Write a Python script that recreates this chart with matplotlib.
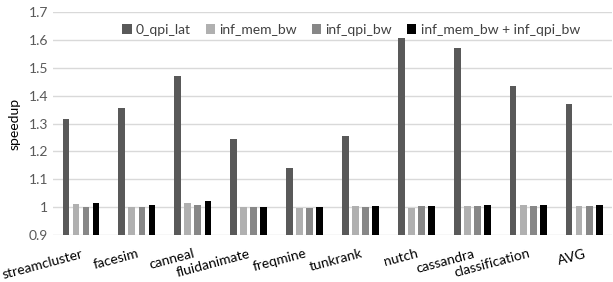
import numpy as np
import matplotlib
matplotlib.use("Agg")
import matplotlib.pyplot as plt

plt.rcParams['font.family'] = ['Lato', 'DejaVu Sans']

benchmarks = ["streamcluster", "facesim", "canneal", "fluidanimate", "freqmine",
              "tunkrank", "nutch", "cassandra", "classification", "AVG"]
series_names = ["0_qpi_lat", "inf_mem_bw", "inf_qpi_bw", "inf_mem_bw + inf_qpi_bw"]
qpi_lat = [1.315, 1.356, 1.472, 1.244, 1.139, 1.256, 1.606, 1.572, 1.435, 1.369]
mem_bw = [1.011, 1.002, 1.014, 1.002, 0.998, 1.003, 0.998, 1.003, 1.008, 1.003]
qpi_bw = [1.002, 1.002, 1.007, 1.002, 0.998, 0.999, 1.003, 1.003, 1.003, 1.003]
both_bw = [1.016, 1.006, 1.023, 1.002, 1.002, 1.003, 1.003, 1.007, 1.007, 1.007]
colors = ["#595959", "#b0b0b0", "#878787", "#000000"]

fig = plt.figure(figsize=(6.13, 2.82), dpi=100)
ax = fig.add_axes([0.0865, 0.167, 0.912, 0.79])

x = np.arange(len(benchmarks))
w = 0.12
step = 0.18
for i, (vals, name) in enumerate(zip([qpi_lat, mem_bw, qpi_bw, both_bw], series_names)):
    ax.bar(x + (i - 1.5) * step, np.array(vals) - 0.9, w, bottom=0.9,
           color=colors[i], label=name, zorder=3)

ax.set_ylim(0.9, 1.7)
ax.set_xlim(-0.5, len(benchmarks) - 0.5)
ax.set_yticks(np.arange(0.9, 1.71, 0.1))
ax.set_yticklabels(["0.9", "1", "1.1", "1.2", "1.3", "1.4", "1.5", "1.6", "1.7"])
ax.yaxis.grid(True, color="#d9d9d9", linewidth=1, zorder=0)
ax.set_axisbelow(True)
for s in ax.spines.values():
    s.set_visible(False)
ax.tick_params(axis="y", length=0, labelsize=10, colors="#595959")
ax.tick_params(axis="x", length=0, labelsize=10, colors="black", pad=9)
ax.set_xticks(x)
ax.set_xticklabels(benchmarks, rotation=15, ha="right", rotation_mode="anchor")
ax.set_ylabel("speedup", fontsize=10, labelpad=6)

ax.legend(loc="upper center", bbox_to_anchor=(0.533, 1.005), ncol=4, frameon=False,
          fontsize=10, handlelength=0.7, handleheight=0.7, handletextpad=0.3,
          columnspacing=1.05, labelcolor="#404040")

fig.savefig("out.png", dpi=100)
